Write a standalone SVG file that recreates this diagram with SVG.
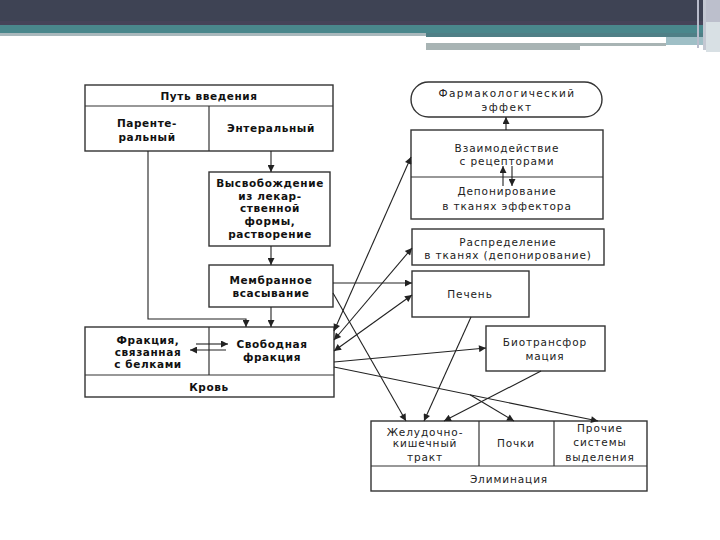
<svg xmlns="http://www.w3.org/2000/svg" width="720" height="540" viewBox="0 0 720 540">
<defs>
<marker id="ah" viewBox="0 0 10 10" refX="10" refY="5" markerWidth="9" markerHeight="7" markerUnits="userSpaceOnUse" orient="auto-start-reverse">
<path d="M0,0 L10,5 L0,10 z" fill="#222"/>
</marker>
<style>
.box{fill:#fff;stroke:#333;stroke-width:1.4}
.ln{fill:none;stroke:#333;stroke-width:1.2}
.c{stroke:#222;stroke-width:1.1;fill:none}
text{font-family:"DejaVu Sans","Noto Sans",sans-serif;font-size:10.5px;fill:#222;text-anchor:middle;letter-spacing:0.9px}
.b{fill:#111;font-weight:bold;font-size:10.5px;letter-spacing:0.6px}
</style>
</defs>
<rect width="720" height="540" fill="#fff"/>
<g id="header">
<rect x="0" y="0" width="720" height="22" fill="#3e4354"/>
<rect x="0" y="21" width="720" height="4" fill="#464459"/>
<rect x="0" y="25" width="720" height="8" fill="#4a878c"/>
<rect x="0" y="33" width="426" height="3" fill="#a9b8bc"/>
<rect x="426" y="33" width="280" height="4" fill="#4f7f86"/>
<rect x="426" y="37" width="240" height="6" fill="#fff"/>
<rect x="426" y="43" width="240" height="3" fill="#a8b4b4"/>
<rect x="426" y="46" width="154" height="4" fill="#a8b4b4"/>
<rect x="666" y="37" width="40" height="8" fill="#9fbfc6"/>
<rect x="697" y="0" width="2" height="48" fill="#b8bccb"/>
<rect x="703" y="0" width="3" height="50" fill="#c4c8d2"/>
<rect x="706" y="0" width="14" height="22" fill="#bcbfcc"/>
<rect x="706" y="22" width="14" height="30" fill="#d8e0e4"/>
</g>
<g id="route">
<rect class="box" x="85" y="85" width="248" height="66"/>
<line class="ln" x1="85" y1="106" x2="333" y2="106"/>
<line class="ln" x1="209" y1="106" x2="209" y2="151"/>
<text class="b" x="209" y="100">Путь введения</text>
<text class="b" x="147" y="127">Паренте-</text>
<text class="b" x="147" y="141">ральный</text>
<text class="b" x="271" y="132">Энтеральный</text>
</g>
<g id="release">
<rect class="box" x="209" y="172" width="121" height="74"/>
<text class="b" x="270" y="187">Высвобождение</text>
<text class="b" x="270" y="200">из лекар-</text>
<text class="b" x="270" y="212">ственной</text>
<text class="b" x="270" y="225">формы,</text>
<text class="b" x="270" y="238">растворение</text>
</g>
<g id="absorption">
<rect class="box" x="209" y="265" width="124" height="42"/>
<text class="b" x="271" y="284">Мембранное</text>
<text class="b" x="271" y="297">всасывание</text>
</g>
<g id="blood">
<rect class="box" x="85" y="327" width="249" height="70"/>
<line class="ln" x1="85" y1="375" x2="334" y2="375"/>
<line class="ln" x1="209" y1="327" x2="209" y2="375"/>
<text class="b" x="148" y="344">Фракция,</text>
<text class="b" x="148" y="356">связанная</text>
<text class="b" x="148" y="368">с белками</text>
<text class="b" x="272" y="348">Свободная</text>
<text class="b" x="272" y="361">фракция</text>
<text class="b" x="209" y="391">Кровь</text>
</g>
<g id="effect">
<rect class="box" x="411" y="82" width="191" height="35" rx="17.5" ry="17.5"/>
<text x="507" y="97" style="letter-spacing:1.4px">Фармакологический</text>
<text x="507" y="111" style="letter-spacing:1.4px">эффект</text>
</g>
<g id="receptors">
<rect class="box" x="411" y="130" width="192" height="89"/>
<line class="ln" x1="411" y1="177" x2="603" y2="177"/>
<text x="507" y="152">Взаимодействие</text>
<text x="507" y="165">с рецепторами</text>
<text x="507" y="195">Депонирование</text>
<text x="507" y="210">в тканях эффектора</text>
</g>
<g id="distribution">
<rect class="box" x="412" y="229" width="192" height="36"/>
<text x="508" y="246">Распределение</text>
<text x="508" y="259">в тканях (депонирование)</text>
</g>
<g id="liver">
<rect class="box" x="412" y="271" width="117" height="46"/>
<text x="470" y="298">Печень</text>
</g>
<g id="biotransformation">
<rect class="box" x="486" y="326" width="119" height="45"/>
<text x="545" y="346">Биотрансфор</text>
<text x="545" y="360">мация</text>
</g>
<g id="elimination">
<rect class="box" x="371" y="421" width="276" height="70"/>
<line class="ln" x1="371" y1="466" x2="647" y2="466"/>
<line class="ln" x1="479" y1="421" x2="479" y2="466"/>
<line class="ln" x1="554" y1="421" x2="554" y2="466"/>
<text x="425" y="436">Желудочно-</text>
<text x="425" y="447">кишечный</text>
<text x="425" y="461">тракт</text>
<text x="516" y="447">Почки</text>
<text x="600" y="432">Прочие</text>
<text x="600" y="446">системы</text>
<text x="600" y="461">выделения</text>
<text x="509" y="483">Элиминация</text>
</g>
<g id="connectors">
<polyline class="c" points="148,151 148,319 246,319 246,327" marker-end="url(#ah)"/>
<line class="c" x1="271" y1="151" x2="271" y2="172" marker-end="url(#ah)"/>
<line class="c" x1="271" y1="246" x2="271" y2="265" marker-end="url(#ah)"/>
<line class="c" x1="271" y1="307" x2="271" y2="327" marker-end="url(#ah)"/>
<line class="c" x1="196" y1="344" x2="228" y2="344" marker-end="url(#ah)"/>
<line class="c" x1="226" y1="350" x2="190" y2="350" marker-end="url(#ah)"/>
<line class="c" x1="506" y1="130" x2="506" y2="117" marker-end="url(#ah)"/>
<line class="c" x1="503" y1="186" x2="503" y2="166" marker-end="url(#ah)"/>
<line class="c" x1="512" y1="166" x2="512" y2="186" marker-end="url(#ah)"/>
<line class="c" x1="334" y1="331" x2="411" y2="157" marker-start="url(#ah)" marker-end="url(#ah)"/>
<line class="c" x1="334" y1="340" x2="412" y2="248" marker-start="url(#ah)" marker-end="url(#ah)"/>
<line class="c" x1="334" y1="351" x2="412" y2="295" marker-start="url(#ah)" marker-end="url(#ah)"/>
<line class="c" x1="333" y1="283" x2="412" y2="283" marker-end="url(#ah)"/>
<line class="c" x1="333" y1="293" x2="406" y2="421" marker-end="url(#ah)"/>
<line class="c" x1="334" y1="362" x2="486" y2="348" marker-end="url(#ah)"/>
<line class="c" x1="334" y1="367" x2="598" y2="421" marker-end="url(#ah)"/>
<line class="c" x1="470" y1="394.8" x2="514" y2="421" marker-end="url(#ah)"/>
<line class="c" x1="471" y1="317" x2="424" y2="421" marker-end="url(#ah)"/>
<line class="c" x1="541" y1="371" x2="444" y2="421" marker-end="url(#ah)"/>
</g>
</svg>
